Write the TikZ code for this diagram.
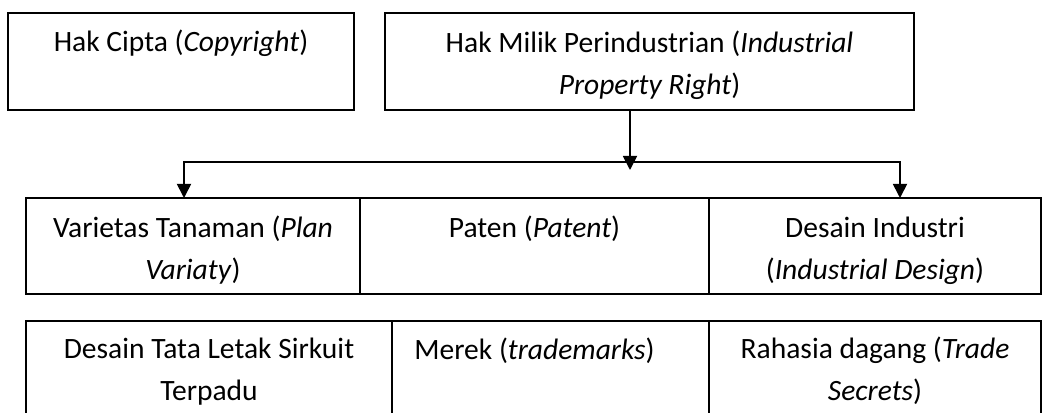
\documentclass[tikz,border=0pt]{standalone}
\usepackage{fontspec}
\setmainfont{Carlito}
\usetikzlibrary{positioning,arrows.meta}

\tikzset{
  cell/.style={draw, line width=1.2pt, inner sep=0pt, outer sep=0pt},
  txt/.style={inner sep=0pt, align=center, anchor=base, font=\fontsize{21}{30}\selectfont},
  link/.style={line width=1.2pt, {Triangle[width=10pt,length=10pt]}-{Triangle[width=10pt,length=10pt]}},
  arr/.style={line width=1.2pt, -{Triangle[width=10pt,length=10pt]}}
}

\begin{document}
\begin{tikzpicture}
\useasboundingbox (0,0) rectangle (26.525,10.3);

% Top boxes
\node[cell, anchor=north west, minimum width=8.65cm, minimum height=2.425cm] (hc) at (0.2,9.975) {};
\node[cell, anchor=north west, minimum width=13.225cm, minimum height=2.425cm] (hm) at (9.625,9.975) {};
\node[txt] (hct) at ([yshift=-0.975cm]hc.north) {Hak Cipta (\textit{Copyright})};
\node[txt] (hmt) at ([yshift=-2.03cm]hm.north) {Hak Milik Perindustrian (\textit{Industrial}\\\textit{Property Right})};

% First row
\node[cell, anchor=north west, minimum width=8.35cm, minimum height=2.4cm] (var) at (0.65,5.35) {};
\node[cell, anchor=west, minimum width=8.725cm, minimum height=2.4cm, right=0pt of var] (pat) {};
\node[cell, anchor=west, minimum width=8.3cm, minimum height=2.4cm, right=0pt of pat] (di) {};
\node[txt] (vart) at ([yshift=-2.03cm]var.north) {Varietas Tanaman (\textit{Plan}\\\textit{Variaty})};
\node[txt] (patt) at ([yshift=-0.975cm]pat.north) {Paten (\textit{Patent})};
\node[txt] (dit) at ([yshift=-2.03cm]di.north) {Desain Industri\\(\textit{Industrial Design})};

% Second row
\node[cell, anchor=north west, minimum width=9.15cm, minimum height=2.6cm] (dtl) at (0.65,2.275) {};
\node[cell, anchor=west, minimum width=7.925cm, minimum height=2.6cm, right=0pt of dtl] (mer) {};
\node[cell, anchor=west, minimum width=8.3cm, minimum height=2.6cm, right=0pt of mer] (rd) {};
\node[txt] (dtlt) at ([yshift=-1.98cm]dtl.north) {Desain Tata Letak Sirkuit\\Terpadu};
\node[txt] (mert) at ([xshift=-0.4cm,yshift=-0.95cm]mer.north) {Merek (\textit{trademarks})};
\node[txt] (rdt) at ([yshift=-1.98cm]rd.north) {Rahasia dagang (\textit{Trade}\\\textit{Secrets})};

% Connectors
\coordinate (split) at (15.75,6.25);
\coordinate (bl) at (4.6,6.25);
\coordinate (br) at (22.5,6.25);
\draw[arr] (split |- hm.south) -- ([yshift=-0.2cm]split);
\draw[link] (bl |- var.north) -- (bl) -- (br) -- (br |- di.north);

\end{tikzpicture}
\end{document}
